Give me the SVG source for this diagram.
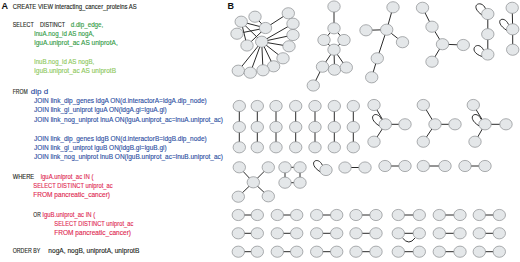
<svg xmlns="http://www.w3.org/2000/svg" width="520" height="262" viewBox="0 0 520 262">
<style>
  .t{font-family:"Liberation Sans",Arial,sans-serif;font-size:6.6px;stroke-width:0.12}
  .k{fill:#231f20;stroke:#231f20}
  .g1{fill:#2f9a43;stroke:#2f9a43}
  .g2{fill:#8cc85a;stroke:#8cc85a}
  .b{fill:#2b4ea2;stroke:#2b4ea2}
  .r{fill:#e0264f;stroke:#e0264f}
  .lbl{font-family:"Liberation Sans",Arial,sans-serif;font-weight:bold;font-size:9px;fill:#111}
  .e line,.e path{stroke:#2a2a2a;stroke-width:1;fill:none}
  .n ellipse{fill:#e4e7e9;stroke:#8a8d8f;stroke-width:0.7}
</style>
<rect width="520" height="262" fill="#ffffff"/>
<g id="panelA">
  <text class="lbl" x="1.5" y="9">A</text>
  <text class="t k" x="12.7" y="8.8" textLength="124" lengthAdjust="spacingAndGlyphs">CREATE VIEW interacting_cancer_proteins AS</text>
  <text class="t k" x="12.7" y="27" textLength="21" lengthAdjust="spacingAndGlyphs">SELECT</text>
  <text class="t k" x="40" y="27" textLength="25" lengthAdjust="spacingAndGlyphs">DISTINCT</text>
  <text class="t g1" x="70.7" y="27" textLength="32.6" lengthAdjust="spacingAndGlyphs">d.dip_edge,</text>
  <text class="t g1" x="34.3" y="36.3" textLength="60" lengthAdjust="spacingAndGlyphs">lnuA.nog_id AS nogA,</text>
  <text class="t g1" x="34.3" y="45.3" textLength="83.4" lengthAdjust="spacingAndGlyphs">lguA.uniprot_ac AS uniprotA,</text>
  <text class="t g2" x="34.3" y="64" textLength="60" lengthAdjust="spacingAndGlyphs">lnuB.nog_id AS nogB,</text>
  <text class="t g2" x="34.3" y="73" textLength="81.7" lengthAdjust="spacingAndGlyphs">lguB.uniprot_ac AS uniprotB</text>
  <text class="t k" x="12.7" y="93.5" textLength="15" lengthAdjust="spacingAndGlyphs">FROM</text>
  <text class="t b" x="30.7" y="93.5" textLength="17.5" lengthAdjust="spacingAndGlyphs">dip d</text>
  <text class="t b" x="34" y="103" textLength="172.7" lengthAdjust="spacingAndGlyphs">JOIN link_dip_genes ldgA ON(d.interactorA=ldgA.dip_node)</text>
  <text class="t b" x="34" y="112.3" textLength="132.7" lengthAdjust="spacingAndGlyphs">JOIN link_gi_uniprot lguA ON(ldgA.gi=lguA.gi)</text>
  <text class="t b" x="34" y="121.7" textLength="189" lengthAdjust="spacingAndGlyphs">JOIN link_nog_uniprot lnuA ON(lguA.uniprot_ac=lnuA.uniprot_ac)</text>
  <text class="t b" x="34" y="140.7" textLength="172.7" lengthAdjust="spacingAndGlyphs">JOIN link_dip_genes ldgB ON(d.interactorB=ldgB.dip_node)</text>
  <text class="t b" x="34" y="150" textLength="132.7" lengthAdjust="spacingAndGlyphs">JOIN link_gi_uniprot lguB ON(ldgB.gi=lguB.gi)</text>
  <text class="t b" x="34" y="159.3" textLength="189" lengthAdjust="spacingAndGlyphs">JOIN link_nog_uniprot lnuB ON(lguB.uniprot_ac=lnuB.uniprot_ac)</text>
  <text class="t k" x="12.7" y="179" textLength="21.5" lengthAdjust="spacingAndGlyphs">WHERE</text>
  <text class="t r" x="40.7" y="179" textLength="52.7" lengthAdjust="spacingAndGlyphs">lguA.uniprot_ac IN (</text>
  <text class="t r" x="33.3" y="188" textLength="79.3" lengthAdjust="spacingAndGlyphs">SELECT DISTINCT uniprot_ac</text>
  <text class="t r" x="33.3" y="197.3" textLength="76.7" lengthAdjust="spacingAndGlyphs">FROM pancreatic_cancer)</text>
  <text class="t k" x="33.3" y="216.5" textLength="7.4" lengthAdjust="spacingAndGlyphs">OR</text>
  <text class="t r" x="42.6" y="216.5" textLength="52.7" lengthAdjust="spacingAndGlyphs">lguB.uniprot_ac IN (</text>
  <text class="t r" x="54.3" y="225.5" textLength="79" lengthAdjust="spacingAndGlyphs">SELECT DISTINCT uniprot_ac</text>
  <text class="t r" x="54.3" y="234.5" textLength="76.7" lengthAdjust="spacingAndGlyphs">FROM pancreatic_cancer)</text>
  <text class="t k" x="12.7" y="253.3" textLength="27.5" lengthAdjust="spacingAndGlyphs">ORDER BY</text>
  <text class="t k" x="48.3" y="253.3" textLength="91" lengthAdjust="spacingAndGlyphs">nogA, nogB, uniprotA, uniprotB</text>
</g>
<text class="lbl" x="227.5" y="8.6">B</text>
<g id="connectors" class="e">
  <line x1="241.2" y1="21.7" x2="265.5" y2="28"/>
  <line x1="255" y1="16.7" x2="265.5" y2="28"/>
  <line x1="288.3" y1="13.3" x2="265.5" y2="28"/>
  <line x1="241.2" y1="21.7" x2="247" y2="45.5"/>
  <line x1="241.2" y1="21.7" x2="261.7" y2="41.7"/>
  <line x1="265.5" y1="28" x2="247" y2="45.5"/>
  <line x1="237" y1="33.7" x2="265.5" y2="28"/>
  <line x1="261.7" y1="41.7" x2="293" y2="23.7"/>
  <line x1="261.7" y1="41.7" x2="293" y2="35"/>
  <line x1="261.7" y1="41.7" x2="289" y2="46.3"/>
  <line x1="261.7" y1="41.7" x2="283" y2="58.3"/>
  <line x1="261.7" y1="41.7" x2="273.6" y2="66.3"/>
  <line x1="261.7" y1="41.7" x2="238.3" y2="70.7"/>
  <line x1="261.7" y1="41.7" x2="250.3" y2="72.7"/>
  <line x1="261.7" y1="41.7" x2="263" y2="70.3"/>
  <line x1="334" y1="6.5" x2="334" y2="28.3"/>
  <line x1="334" y1="28.3" x2="324" y2="40"/>
  <line x1="334" y1="28.3" x2="344" y2="40"/>
  <line x1="324" y1="40" x2="334" y2="49.7"/>
  <line x1="344" y1="40" x2="334" y2="49.7"/>
  <line x1="334" y1="49.7" x2="322.5" y2="66.7"/>
  <line x1="334" y1="49.7" x2="334.5" y2="69.7"/>
  <line x1="334" y1="49.7" x2="346.3" y2="67.5"/>
  <line x1="322.5" y1="66.7" x2="313.3" y2="85.5"/>
  <line x1="393" y1="7.3" x2="386.7" y2="29.7"/>
  <line x1="366" y1="30.3" x2="386.7" y2="29.7"/>
  <line x1="386.7" y1="29.7" x2="402.5" y2="42.2"/>
  <line x1="386.7" y1="29.7" x2="377.3" y2="58.3"/>
  <line x1="377.3" y1="58.3" x2="371.7" y2="77.3"/>
  <line x1="422.5" y1="7.8" x2="432" y2="26.7"/>
  <line x1="432" y1="26.7" x2="442.5" y2="44.2"/>
  <line x1="442.5" y1="44.2" x2="463.3" y2="45"/>
  <line x1="442.5" y1="44.2" x2="432" y2="61.7"/>
  <line x1="487.8" y1="14" x2="487.8" y2="34.2"/>
  <line x1="487.8" y1="34.2" x2="487.8" y2="54.5"/>
  <path d="M485.5,8.8 C482,-1 468,5 482,15"/>
  <path d="M483.5,50 C478,39 466,51 482,56.5"/>
  <line x1="512.2" y1="7.8" x2="512.7" y2="29.3"/>
  <line x1="512.7" y1="29.3" x2="512.7" y2="49.7"/>
  <path d="M508.5,24.5 C504,14 492,21 507,30.5"/>
  <path d="M239.3,106V147.3M257.3,106V147.3M276,106V147.3M295.7,106V147.3M315,106V147.3M334.3,106V147.3M353.3,106V147.3"/>
  <line x1="374" y1="105" x2="385.3" y2="124.3"/>
  <line x1="385.3" y1="124.3" x2="405" y2="124.3"/>
  <line x1="385.3" y1="124.3" x2="374" y2="141.7"/>
  <path d="M381.5,119.5 C377,109 365,117 379.5,126"/>
  <line x1="423.3" y1="105" x2="435" y2="124.3"/>
  <line x1="435" y1="124.3" x2="455" y2="124.3"/>
  <line x1="435" y1="124.3" x2="423.3" y2="141.7"/>
  <line x1="473.3" y1="105" x2="485" y2="124.3"/>
  <line x1="485" y1="124.3" x2="506" y2="124.3"/>
  <line x1="485" y1="124.3" x2="475" y2="141.7"/>
  <path d="M481.2,119.5 C476.7,109 464.7,117 479.2,126"/>
  <line x1="239.3" y1="167.3" x2="253.3" y2="182.3"/>
  <line x1="268.3" y1="167.3" x2="253.3" y2="182.3"/>
  <line x1="253.3" y1="182.3" x2="238.3" y2="196.7"/>
  <line x1="253.3" y1="182.3" x2="268.3" y2="196.3"/>
  <path d="M285,167.3H300M285,182.7H300M285,167.3V182.7M300,167.3V182.7"/>
  <path d="M322.5,165.5 C318,155 306,163 320.5,172"/>
  <path d="M345,167.5H365M385,166H405M423.3,166H445M465,166H485"/>
  <path d="M238.3,215H257.3M277.3,215H296.7M316.7,215H336.7M356,215H376M398.3,215H419.3M439.3,215H460M479.3,215H499.3"/>
  <path d="M238.3,233.3H257.3M277.3,233.3H296.7M316.7,233.3H336.7M356,233.3H376M398.3,233.3H419.3M439.3,233.3H460M479.3,233.3H499.3"/>
  <path d="M238.3,251.7H257.3M277.3,251.7H296.7M316.7,251.7H336.7M356,251.7H376M398.3,251.7H419.3M439.3,251.7H460M479.3,251.7H499.3"/>
  <path d="M402.5,238 Q409,246 415,238"/>
</g>
<g id="nodes" class="n">
  <g id="c1"><ellipse cx="241.2" cy="21.7" rx="6.2" ry="5.6"/><ellipse cx="255" cy="16.7" rx="6.2" ry="5.6"/><ellipse cx="288.3" cy="13.3" rx="6.2" ry="5.6"/><ellipse cx="265.5" cy="28" rx="6.2" ry="5.6"/><ellipse cx="293" cy="23.7" rx="6.2" ry="5.6"/><ellipse cx="237" cy="33.7" rx="6.2" ry="5.6"/><ellipse cx="293" cy="35" rx="6.2" ry="5.6"/><ellipse cx="247" cy="45.5" rx="6.2" ry="5.6"/><ellipse cx="261.7" cy="41.7" rx="6.2" ry="5.6"/><ellipse cx="289" cy="46.3" rx="6.2" ry="5.6"/><ellipse cx="283" cy="58.3" rx="6.2" ry="5.6"/><ellipse cx="273.6" cy="66.3" rx="6.2" ry="5.6"/><ellipse cx="238.3" cy="70.7" rx="6.2" ry="5.6"/><ellipse cx="250.3" cy="72.7" rx="6.2" ry="5.6"/><ellipse cx="263" cy="70.3" rx="6.2" ry="5.6"/></g>
  <g id="c2"><ellipse cx="334" cy="6.5" rx="6.2" ry="5.6"/><ellipse cx="334" cy="28.3" rx="6.2" ry="5.6"/><ellipse cx="324" cy="40" rx="6.2" ry="5.6"/><ellipse cx="344" cy="40" rx="6.2" ry="5.6"/><ellipse cx="334" cy="49.7" rx="6.2" ry="5.6"/><ellipse cx="322.5" cy="66.7" rx="6.2" ry="5.6"/><ellipse cx="334.5" cy="69.7" rx="6.2" ry="5.6"/><ellipse cx="346.3" cy="67.5" rx="6.2" ry="5.6"/><ellipse cx="313.3" cy="85.5" rx="6.2" ry="5.6"/></g>
  <g id="c3"><ellipse cx="393" cy="7.3" rx="6.2" ry="5.6"/><ellipse cx="366" cy="30.3" rx="6.2" ry="5.6"/><ellipse cx="386.7" cy="29.7" rx="6.2" ry="5.6"/><ellipse cx="402.5" cy="42.2" rx="6.2" ry="5.6"/><ellipse cx="377.3" cy="58.3" rx="6.2" ry="5.6"/><ellipse cx="371.7" cy="77.3" rx="6.2" ry="5.6"/></g>
  <g id="c4"><ellipse cx="422.5" cy="7.8" rx="6.2" ry="5.6"/><ellipse cx="432" cy="26.7" rx="6.2" ry="5.6"/><ellipse cx="442.5" cy="44.2" rx="6.2" ry="5.6"/><ellipse cx="463.3" cy="45" rx="6.2" ry="5.6"/><ellipse cx="432" cy="61.7" rx="6.2" ry="5.6"/></g>
  <g id="c5"><ellipse cx="487.8" cy="14" rx="6.2" ry="5.6"/><ellipse cx="487.8" cy="34.2" rx="6.2" ry="5.6"/><ellipse cx="487.8" cy="54.5" rx="6.2" ry="5.6"/></g>
  <g id="c6"><ellipse cx="512.2" cy="7.8" rx="6.2" ry="5.6"/><ellipse cx="512.7" cy="29.3" rx="6.2" ry="5.6"/><ellipse cx="512.7" cy="49.7" rx="6.2" ry="5.6"/></g>
  <g id="triplets">
    <ellipse cx="239.3" cy="106" rx="6.2" ry="5.6"/><ellipse cx="239.3" cy="127" rx="6.2" ry="5.6"/><ellipse cx="239.3" cy="147.3" rx="6.2" ry="5.6"/>
    <ellipse cx="257.3" cy="106" rx="6.2" ry="5.6"/><ellipse cx="257.3" cy="127" rx="6.2" ry="5.6"/><ellipse cx="257.3" cy="147.3" rx="6.2" ry="5.6"/>
    <ellipse cx="276" cy="106" rx="6.2" ry="5.6"/><ellipse cx="276" cy="127" rx="6.2" ry="5.6"/><ellipse cx="276" cy="147.3" rx="6.2" ry="5.6"/>
    <ellipse cx="295.7" cy="106" rx="6.2" ry="5.6"/><ellipse cx="295.7" cy="127" rx="6.2" ry="5.6"/><ellipse cx="295.7" cy="147.3" rx="6.2" ry="5.6"/>
    <ellipse cx="315" cy="106" rx="6.2" ry="5.6"/><ellipse cx="315" cy="127" rx="6.2" ry="5.6"/><ellipse cx="315" cy="147.3" rx="6.2" ry="5.6"/>
    <ellipse cx="334.3" cy="106" rx="6.2" ry="5.6"/><ellipse cx="334.3" cy="127" rx="6.2" ry="5.6"/><ellipse cx="334.3" cy="147.3" rx="6.2" ry="5.6"/>
    <ellipse cx="353.3" cy="106" rx="6.2" ry="5.6"/><ellipse cx="353.3" cy="127" rx="6.2" ry="5.6"/><ellipse cx="353.3" cy="147.3" rx="6.2" ry="5.6"/>
  </g>
  <g id="stars">
    <ellipse cx="374" cy="105" rx="6.2" ry="5.6"/><ellipse cx="385.3" cy="124.3" rx="6.2" ry="5.6"/><ellipse cx="405" cy="124.3" rx="6.2" ry="5.6"/><ellipse cx="374" cy="141.7" rx="6.2" ry="5.6"/>
    <ellipse cx="423.3" cy="105" rx="6.2" ry="5.6"/><ellipse cx="435" cy="124.3" rx="6.2" ry="5.6"/><ellipse cx="455" cy="124.3" rx="6.2" ry="5.6"/><ellipse cx="423.3" cy="141.7" rx="6.2" ry="5.6"/>
    <ellipse cx="473.3" cy="105" rx="6.2" ry="5.6"/><ellipse cx="485" cy="124.3" rx="6.2" ry="5.6"/><ellipse cx="506" cy="124.3" rx="6.2" ry="5.6"/><ellipse cx="475" cy="141.7" rx="6.2" ry="5.6"/>
  </g>
  <g id="row3">
    <ellipse cx="239.3" cy="167.3" rx="6.2" ry="5.6"/><ellipse cx="268.3" cy="167.3" rx="6.2" ry="5.6"/><ellipse cx="253.3" cy="182.3" rx="6.2" ry="5.6"/><ellipse cx="238.3" cy="196.7" rx="6.2" ry="5.6"/><ellipse cx="268.3" cy="196.3" rx="6.2" ry="5.6"/>
    <ellipse cx="285" cy="167.3" rx="6.2" ry="5.6"/><ellipse cx="300" cy="167.3" rx="6.2" ry="5.6"/><ellipse cx="285" cy="182.7" rx="6.2" ry="5.6"/><ellipse cx="300" cy="182.7" rx="6.2" ry="5.6"/>
    <ellipse cx="326" cy="170" rx="6.2" ry="5.6"/>
    <ellipse cx="345" cy="167.5" rx="6.2" ry="5.6"/><ellipse cx="365" cy="167.5" rx="6.2" ry="5.6"/>
    <ellipse cx="385" cy="166" rx="6.2" ry="5.6"/><ellipse cx="405" cy="166" rx="6.2" ry="5.6"/>
    <ellipse cx="423.3" cy="166" rx="6.2" ry="5.6"/><ellipse cx="445" cy="166" rx="6.2" ry="5.6"/>
    <ellipse cx="465" cy="166" rx="6.2" ry="5.6"/><ellipse cx="485" cy="166" rx="6.2" ry="5.6"/>
  </g>
  <g id="pairs">
    <ellipse cx="238.3" cy="215" rx="6.2" ry="5.6"/><ellipse cx="257.3" cy="215" rx="6.2" ry="5.6"/><ellipse cx="277.3" cy="215" rx="6.2" ry="5.6"/><ellipse cx="296.7" cy="215" rx="6.2" ry="5.6"/><ellipse cx="316.7" cy="215" rx="6.2" ry="5.6"/><ellipse cx="336.7" cy="215" rx="6.2" ry="5.6"/><ellipse cx="356" cy="215" rx="6.2" ry="5.6"/><ellipse cx="376" cy="215" rx="6.2" ry="5.6"/><ellipse cx="398.3" cy="215" rx="6.2" ry="5.6"/><ellipse cx="419.3" cy="215" rx="6.2" ry="5.6"/><ellipse cx="439.3" cy="215" rx="6.2" ry="5.6"/><ellipse cx="460" cy="215" rx="6.2" ry="5.6"/><ellipse cx="479.3" cy="215" rx="6.2" ry="5.6"/><ellipse cx="499.3" cy="215" rx="6.2" ry="5.6"/>
    <ellipse cx="238.3" cy="233.3" rx="6.2" ry="5.6"/><ellipse cx="257.3" cy="233.3" rx="6.2" ry="5.6"/><ellipse cx="277.3" cy="233.3" rx="6.2" ry="5.6"/><ellipse cx="296.7" cy="233.3" rx="6.2" ry="5.6"/><ellipse cx="316.7" cy="233.3" rx="6.2" ry="5.6"/><ellipse cx="336.7" cy="233.3" rx="6.2" ry="5.6"/><ellipse cx="356" cy="233.3" rx="6.2" ry="5.6"/><ellipse cx="376" cy="233.3" rx="6.2" ry="5.6"/><ellipse cx="398.3" cy="233.3" rx="6.2" ry="5.6"/><ellipse cx="419.3" cy="233.3" rx="6.2" ry="5.6"/><ellipse cx="439.3" cy="233.3" rx="6.2" ry="5.6"/><ellipse cx="460" cy="233.3" rx="6.2" ry="5.6"/><ellipse cx="479.3" cy="233.3" rx="6.2" ry="5.6"/><ellipse cx="499.3" cy="233.3" rx="6.2" ry="5.6"/>
    <ellipse cx="238.3" cy="251.7" rx="6.2" ry="5.6"/><ellipse cx="257.3" cy="251.7" rx="6.2" ry="5.6"/><ellipse cx="277.3" cy="251.7" rx="6.2" ry="5.6"/><ellipse cx="296.7" cy="251.7" rx="6.2" ry="5.6"/><ellipse cx="316.7" cy="251.7" rx="6.2" ry="5.6"/><ellipse cx="336.7" cy="251.7" rx="6.2" ry="5.6"/><ellipse cx="356" cy="251.7" rx="6.2" ry="5.6"/><ellipse cx="376" cy="251.7" rx="6.2" ry="5.6"/><ellipse cx="398.3" cy="251.7" rx="6.2" ry="5.6"/><ellipse cx="419.3" cy="251.7" rx="6.2" ry="5.6"/><ellipse cx="439.3" cy="251.7" rx="6.2" ry="5.6"/><ellipse cx="460" cy="251.7" rx="6.2" ry="5.6"/><ellipse cx="479.3" cy="251.7" rx="6.2" ry="5.6"/><ellipse cx="499.3" cy="251.7" rx="6.2" ry="5.6"/>
  </g>
</g>
</svg>
